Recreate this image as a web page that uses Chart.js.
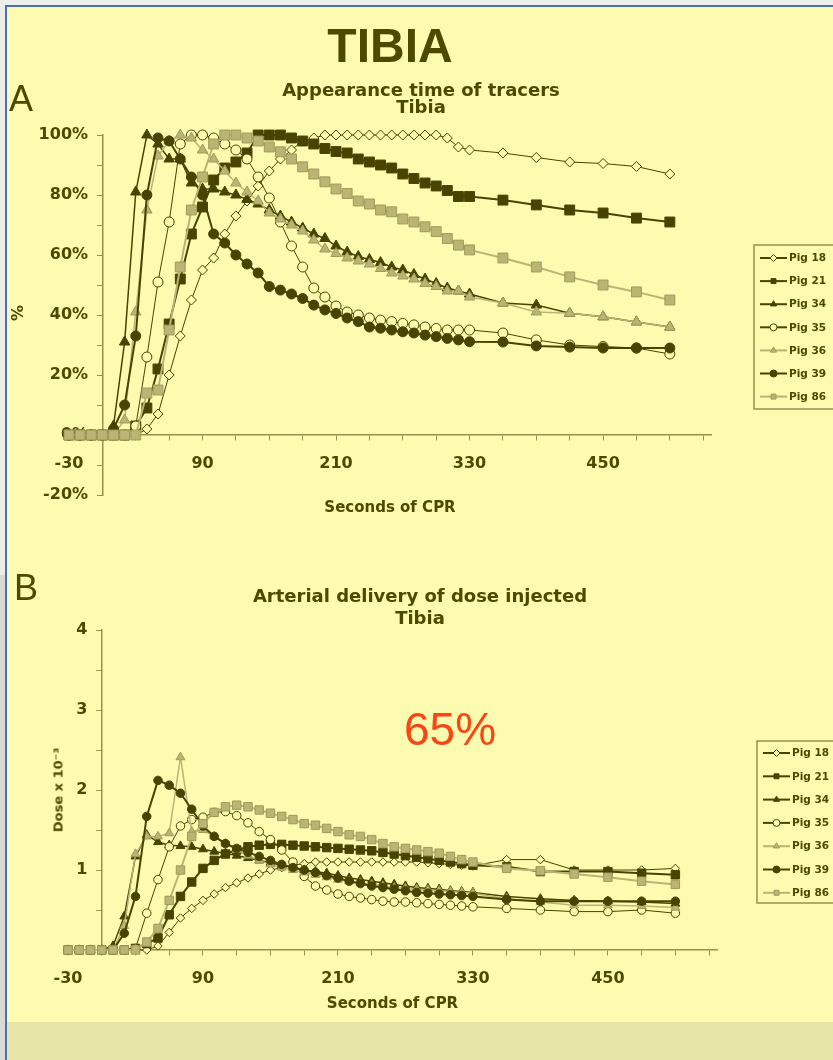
<!DOCTYPE html>
<html>
<head>
<meta charset="utf-8">
<script src="https://cdn.jsdelivr.net/npm/chart.js@4.4.1/dist/chart.umd.min.js"></script>
<style>
    html, body { margin: 0; padding: 0; }
    body { width: 833px; height: 1060px; overflow: hidden; position: relative; background: #fcfbb0; font-family: 'DejaVu Sans', Verdana, sans-serif; color: #4d4900; }
    .abs { position: absolute; }
    canvas { position: absolute; left: 0; }
    .ttl { position: absolute; width: 600px; margin-left: -300px; text-align: center; font: bold 18px 'DejaVu Sans', Verdana, sans-serif; line-height: 18px; }
    .rot { position: absolute; white-space: nowrap; transform: translate(-50%, -50%) rotate(-90deg); font-weight: bold; }
</style>
</head>
<body>
<div class="abs" style="left:0;top:0;width:833px;height:5px;background:#efefe9"></div>
<div class="abs" style="left:0;top:0;width:5px;height:1060px;background:#ececea"></div>
<div class="abs" style="left:0;top:575px;width:5px;height:485px;background:#d9d9d6"></div>
<div class="abs" style="left:5px;top:5px;width:828px;height:2px;background:#4d6fb6"></div>
<div class="abs" style="left:5px;top:5px;width:2px;height:1055px;background:#4d6fb6"></div>
<div class="abs" style="left:7px;top:1022px;width:826px;height:38px;background:#e6e4a6"></div>

<canvas id="chartA" width="833" height="540" style="top:0"></canvas>
<canvas id="chartB" width="833" height="520" style="top:540px"></canvas>

<div class="abs" style="left:0;top:22px;width:780px;text-align:center;font:bold 48px 'Liberation Sans', Arial, sans-serif;line-height:48px;">TIBIA</div>
<div class="abs" style="left:9px;top:81px;font:36px 'Liberation Sans', Arial, sans-serif;line-height:36px;">A</div>
<div class="abs" style="left:14px;top:570px;font:36px 'Liberation Sans', Arial, sans-serif;line-height:36px;">B</div>
<div class="abs" style="left:404px;top:706px;font:46px 'Liberation Sans', Arial, sans-serif;line-height:46px;color:#fa4614;">65%</div>

<div class="ttl" style="left:421px;top:81px;">Appearance time of tracers</div>
<div class="ttl" style="left:421px;top:98px;">Tibia</div>
<div class="ttl" style="left:420px;top:587px;">Arterial delivery of dose injected</div>
<div class="ttl" style="left:420px;top:609px;">Tibia</div>

<div class="rot" style="left:17px;top:313px;font-size:16px;">%</div>
<div class="rot" style="left:58px;top:790px;font-size:13px;">Dose x 10⁻³</div>

<script>
const bgColor = '#fcfbb0';
const darkColor = '#484400';
const greyColor = '#bbb574';
const greyEdge = '#a09a5c';
const textColor = '#4d4900';
const axisColor = '#979250';
const labelGap = '  \u2009'; // keeps y labels off the axis line

// seconds of CPR at which every pig was sampled
const seconds = [-30, -20, -10, 0, 10, 20, 30, 40, 50, 60, 70, 80, 90, 100, 110, 120, 130, 140, 150, 160,
    170, 180, 190, 200, 210, 220, 230, 240, 250, 260, 270, 280, 290, 300, 310, 320, 330,
    360, 390, 420, 450, 480, 510];
const xTickMarks = [-30, 0, 30, 60, 90, 120, 150, 180, 210, 240, 270, 300, 330, 360, 390, 420, 450, 480, 510, 540];
const xTickLabels = [-30, 90, 210, 330, 450];
const pigLabels = ['Pig 18', 'Pig 21', 'Pig 34', 'Pig 35', 'Pig 36', 'Pig 39', 'Pig 86'];

// A - appearance time of tracers (%)
const pig18A = [0, 0, 0, 0, 0, 0, 0, 2, 7, 20, 33, 45, 55, 59, 67, 73, 78, 83, 88, 92,
    95, 98, 99, 100, 100, 100, 100, 100, 100, 100, 100, 100, 100, 100, 99, 96, 95,
    94, 92.5, 91, 90.5, 89.5, 87];
const pig21A = [0, 0, 0, 0, 0, 0, 3, 9, 22, 37, 52, 67, 76, 85, 89, 91, 94, 100, 100, 100,
    99, 98, 97, 95.5, 94.5, 94, 92, 91, 90, 89, 87, 85.5, 84, 83, 81.5, 79.5, 79.5,
    78.3, 76.7, 75, 74, 72.3, 71];
const pig34A = [0, 0, 0, 0, 3, 31, 81, 100, 97, 92, 92, 84, 82, 82, 81, 80, 78.5, 77, 75, 73,
    71, 69, 67, 65.5, 63, 61, 59.5, 58.5, 57.5, 56, 55, 53.5, 52, 50.5, 49, 48, 47,
    44, 43.3, 40.6, 39.4, 37.7, 36];
const pig35A = [0, 0, 0, 0, 0, 0, 3, 26, 51, 71, 97, 100, 100, 99, 97, 95, 92, 86, 79, 71,
    63, 56, 49, 46, 43, 41, 40, 39, 38.3, 37.8, 37.2, 36.7, 36, 35.5, 35, 35, 35,
    34, 31.7, 30, 29.5, 29, 27];
const pig36A = [0, 0, 0, 0, 0, 5, 41, 75, 93, 98, 100, 99, 95, 92, 88, 84, 81, 78, 74, 72,
    70, 68, 65, 62, 60.5, 59, 58, 57, 55.5, 54, 53, 52, 50.5, 49.5, 48, 48, 46,
    44, 41, 40.6, 39.4, 37.7, 36];
const pig39A = [0, 0, 0, 0, 2, 10, 33, 80, 99, 98, 92, 86, 80, 67, 64, 60, 57, 54, 49.5, 48.3,
    47, 45.5, 43.3, 41.7, 40.5, 39, 37.8, 36, 35.6, 35, 34.4, 34, 33.3, 32.8, 32.2, 31.7, 31.1,
    31, 29.7, 29.3, 29, 29, 29];
const pig86A = [0, 0, 0, 0, 0, 0, 0, 14, 15, 35, 56, 75, 86, 97, 100, 100, 99, 98, 96, 94.4,
    92, 89.4, 87, 84.4, 82, 80.5, 78, 77, 75, 74.4, 72, 71, 69.4, 67.8, 65.5, 63.3, 61.7,
    59, 56, 52.7, 50, 47.7, 45];

// B - arterial delivery of dose injected (dose x 10^-3)
const pig18B = [0, 0, 0, 0, 0, 0, 0, 0, 0.05, 0.22, 0.4, 0.52, 0.62, 0.7, 0.78, 0.84, 0.9, 0.95, 1.0, 1.03,
    1.06, 1.08, 1.1, 1.1, 1.1, 1.1, 1.1, 1.1, 1.1, 1.1, 1.1, 1.1, 1.09, 1.08, 1.07, 1.06, 1.05,
    1.13, 1.13, 1.0, 1.0, 1.0, 1.02];
const pig21B = [0, 0, 0, 0, 0, 0, 0.02, 0.08, 0.15, 0.44, 0.67, 0.85, 1.02, 1.12, 1.2, 1.25, 1.29, 1.31, 1.32, 1.32,
    1.31, 1.3, 1.29, 1.28, 1.27, 1.26, 1.25, 1.24, 1.22, 1.2, 1.18, 1.16, 1.14, 1.12, 1.1, 1.08, 1.06,
    1.04, 0.98, 0.98, 0.98, 0.96, 0.94];
const pig34B = [0, 0, 0, 0, 0.05, 0.42, 1.17, 1.44, 1.35, 1.31, 1.3, 1.29, 1.26, 1.23, 1.21, 1.18, 1.15, 1.12, 1.09, 1.06,
    1.03, 1.0, 0.98, 0.96, 0.93, 0.9, 0.88, 0.86, 0.84, 0.82, 0.8, 0.78, 0.77, 0.76, 0.74, 0.73, 0.72,
    0.67, 0.64, 0.62, 0.61, 0.6, 0.58];
const pig35B = [0, 0, 0, 0, 0, 0, 0.02, 0.46, 0.88, 1.29, 1.55, 1.63, 1.66, 1.72, 1.73, 1.68, 1.59, 1.48, 1.38, 1.25,
    1.1, 0.92, 0.8, 0.75, 0.7, 0.67, 0.65, 0.63, 0.61, 0.6, 0.6, 0.59, 0.58, 0.57, 0.56, 0.55, 0.54,
    0.52, 0.5, 0.48, 0.48, 0.5, 0.46];
const pig36B = [0, 0, 0, 0, 0, 0.3, 1.2, 1.42, 1.42, 1.46, 2.41, 1.48, 1.5, 1.42, 1.33, 1.25, 1.18, 1.12, 1.07, 1.03,
    1.0, 0.97, 0.94, 0.91, 0.88, 0.86, 0.84, 0.82, 0.8, 0.78, 0.77, 0.76, 0.75, 0.74, 0.73, 0.72, 0.71,
    0.64, 0.6, 0.56, 0.56, 0.55, 0.53];
const pig39B = [0, 0, 0, 0, 0, 0.21, 0.67, 1.67, 2.12, 2.06, 1.96, 1.76, 1.55, 1.42, 1.33, 1.27, 1.22, 1.17, 1.12, 1.07,
    1.03, 1.0, 0.97, 0.93, 0.9, 0.86, 0.83, 0.8, 0.78, 0.76, 0.74, 0.72, 0.71, 0.7, 0.69, 0.68, 0.67,
    0.63, 0.61, 0.61, 0.61, 0.61, 0.61];
const pig86B = [0, 0, 0, 0, 0, 0, 0, 0.1, 0.27, 0.62, 1.0, 1.42, 1.58, 1.72, 1.79, 1.81, 1.79, 1.75, 1.71, 1.67,
    1.63, 1.58, 1.56, 1.52, 1.48, 1.44, 1.42, 1.38, 1.33, 1.29, 1.27, 1.25, 1.23, 1.21, 1.17, 1.13, 1.1,
    1.02, 0.99, 0.95, 0.91, 0.86, 0.82];

// marker look of each pig, Excel style
const pigStyles = [
    { shape: 'rectRot', size: 5, fill: bgColor, edge: darkColor, line: darkColor, lineWidth: 1 },
    { shape: 'rect', size: 7, fill: darkColor, edge: darkColor, line: darkColor, lineWidth: 2 },
    { shape: 'triangle', size: 6, fill: darkColor, edge: darkColor, line: darkColor, lineWidth: 1.5 },
    { shape: 'circle', size: 5, fill: bgColor, edge: darkColor, line: darkColor, lineWidth: 1 },
    { shape: 'triangle', size: 6, fill: greyColor, edge: greyEdge, line: greyColor, lineWidth: 1.5 },
    { shape: 'circle', size: 5, fill: darkColor, edge: darkColor, line: darkColor, lineWidth: 2 },
    { shape: 'rect', size: 7, fill: greyColor, edge: greyEdge, line: greyColor, lineWidth: 2 }
];

Chart.defaults.font.family = "'DejaVu Sans', Verdana, sans-serif";
Chart.defaults.color = textColor;

// boxed legend with a line and a marker per pig
const boxLegend = {
    id: 'boxLegend',
    afterDatasetsDraw(chart, args, opts) {
        const ctx = chart.ctx;
        ctx.save();
        ctx.lineWidth = 1.5;
        ctx.strokeStyle = axisColor;
        ctx.strokeRect(opts.left, opts.top, opts.width, opts.height);
        ctx.font = "bold 10.5px 'DejaVu Sans'";
        ctx.textBaseline = 'middle';
        chart.data.datasets.forEach((ds, i) => {
            const y = opts.top + opts.firstRow + i * opts.rowStep;
            ctx.strokeStyle = ds.borderColor;
            ctx.lineWidth = 2;
            ctx.beginPath();
            ctx.moveTo(opts.left + 6, y);
            ctx.lineTo(opts.left + 33, y);
            ctx.stroke();
            ctx.fillStyle = ds.pointBackgroundColor;
            ctx.strokeStyle = ds.pointBorderColor;
            ctx.lineWidth = 1;
            Chart.helpers.drawPoint(ctx, { pointStyle: ds.pointStyle, radius: 3.5, borderWidth: 1, rotation: 0 }, opts.left + 19.5, y);
            ctx.fillStyle = textColor;
            ctx.fillText(ds.label, opts.left + 35, y + 0.5);
        });
        ctx.restore();
    }
};

function makeDatasets(valueLists, scale) {
    return valueLists.map((vals, i) => {
        const st = pigStyles[i];
        return {
            label: pigLabels[i],
            data: seconds.map((s, k) => ({ x: s, y: vals[k] })),
            showLine: true,
            tension: 0,
            borderColor: st.line,
            borderWidth: st.lineWidth,
            pointStyle: st.shape,
            pointRadius: st.size * scale,
            pointBackgroundColor: st.fill,
            pointBorderColor: st.edge,
            pointBorderWidth: 1,
            clip: false,
            order: -i
        };
    });
}

function xAxis(max, titlePad) {
    return {
        type: 'linear',
        min: -30,
        max: max,
        position: { y: 0 },
        afterBuildTicks: s => { s.ticks = xTickMarks.map(v => ({ value: v })); },
        ticks: {
            autoSkip: false, maxRotation: 0, padding: 14,
            font: { size: 16, weight: 'bold' }, color: textColor,
            callback: v => xTickLabels.includes(v) ? String(v) : ''
        },
        grid: { drawOnChartArea: false, drawTicks: true, tickLength: 5, color: axisColor },
        border: { color: axisColor, width: 1.5 },
        title: {
            display: true, text: 'Seconds of CPR', color: textColor,
            font: { size: 15, weight: 'bold' }, padding: { top: titlePad, bottom: 0 }
        }
    };
}

function chartA() {
    new Chart(document.getElementById('chartA'), {
        type: 'scatter',
        data: { datasets: makeDatasets([pig18A, pig21A, pig34A, pig35A, pig36A, pig39A, pig86A], 1) },
        options: {
            responsive: false,
            animation: false,
            events: [],
            layout: { padding: { left: 69, right: 122, top: 135, bottom: 45 } },
            scales: {
                x: xAxis(547, 12),
                y: {
                    min: -20, max: 100,
                    position: { x: 0 },
                    ticks: {
                        stepSize: 10,
                        font: { size: 16, weight: 'bold' }, color: textColor,
                        callback: v => v % 20 === 0 ? v + '%' + labelGap : ''
                    },
                    grid: { drawOnChartArea: false, drawTicks: true, tickLength: 5, color: axisColor },
                    border: { color: axisColor, width: 1.5 }
                }
            },
            plugins: {
                legend: { display: false },
                tooltip: { enabled: false },
                boxLegend: { left: 754, top: 245, width: 110, height: 164, firstRow: 13, rowStep: 23.1 }
            }
        },
        plugins: [boxLegend]
    });
}

function chartB() {
    new Chart(document.getElementById('chartB'), {
        type: 'scatter',
        data: { datasets: makeDatasets([pig18B, pig21B, pig34B, pig35B, pig36B, pig39B, pig86B], 0.85) },
        options: {
            responsive: false,
            animation: false,
            events: [],
            layout: { padding: { left: 68, right: 116, top: 90, bottom: 110 } },
            scales: {
                x: xAxis(547, -7),
                y: {
                    min: 0, max: 4,
                    position: { x: 0 },
                    ticks: {
                        stepSize: 0.5,
                        font: { size: 16, weight: 'bold' }, color: textColor,
                        callback: v => (Number.isInteger(v) && v > 0) ? v + labelGap : ''
                    },
                    grid: { drawOnChartArea: false, drawTicks: true, tickLength: 5, color: axisColor },
                    border: { color: axisColor, width: 1.5 }
                }
            },
            plugins: {
                legend: { display: false },
                tooltip: { enabled: false },
                boxLegend: { left: 757, top: 201, width: 110, height: 162, firstRow: 12, rowStep: 23.3 }
            }
        },
        plugins: [boxLegend]
    });
}

chartA();
chartB();
</script>
</body>
</html>
